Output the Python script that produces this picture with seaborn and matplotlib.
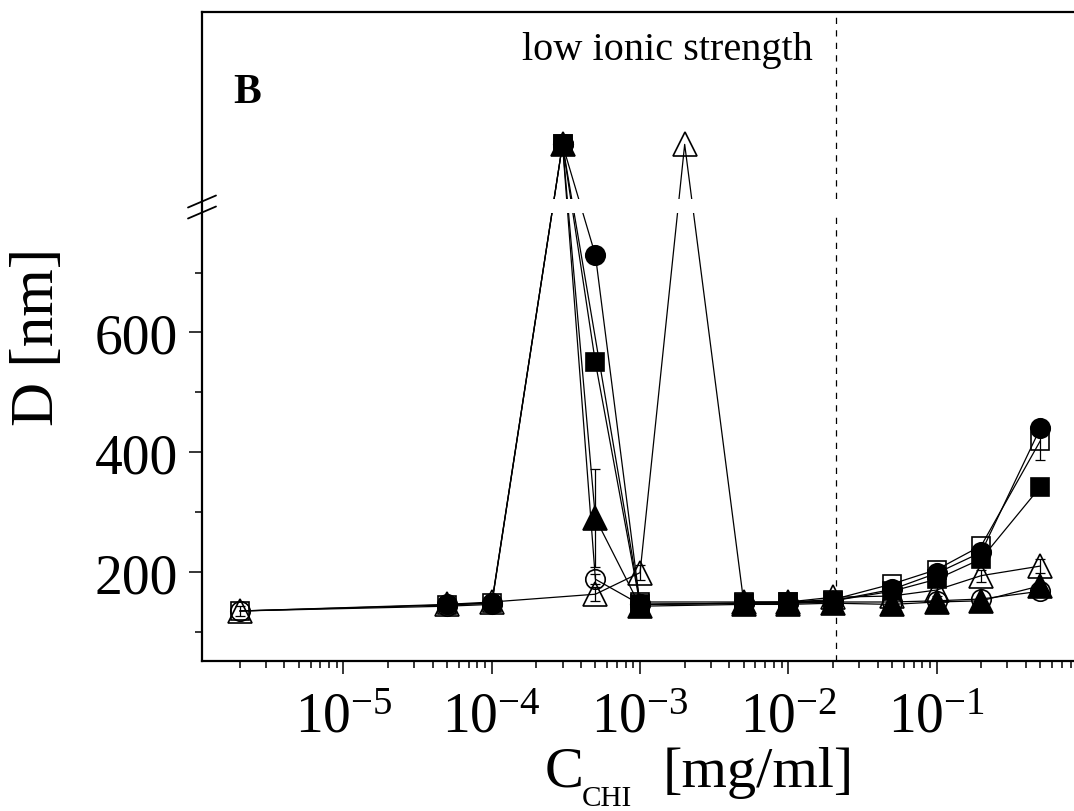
import numpy as np
import pandas as pd
import matplotlib
matplotlib.use("Agg")
import matplotlib.pyplot as plt
import seaborn as sns
from matplotlib.ticker import FixedLocator, FixedFormatter, LogLocator, NullFormatter
from matplotlib.lines import Line2D

# ---------------- data ----------------
nan = np.nan
PEAK = 914  # off-scale (aggregation) values shown above the axis break

C_CHI = [2e-6, 5e-5, 1e-4, 3e-4, 5e-4, 1e-3, 2e-3, 5e-3, 1e-2, 2e-2, 5e-2, 1e-1, 2e-1, 5e-1]

open_circle   = [135, 143, 146, PEAK, 188, 146, nan, 148, 148, 150, 150, 152, 155, 168]
open_square   = [135, 145, 148, PEAK, nan, 150, nan, 150, 150, 154, 180, 204, 244, 419]
open_triangle = [135, 146, 150, nan, 163, 199, PEAK, 150, 150, 158, 160, 170, 194, 210]
filled_circle = [nan, 146, 148, PEAK, 729, 146, nan, 148, 148, 152, 171, 198, 233, 440]
filled_square = [nan, nan, nan, PEAK, 550, 146, nan, 148, 150, 152, 168, 188, 222, 342]
filled_triangle = [nan, nan, nan, PEAK, 290, 143, nan, 146, 146, 148, 146, 150, 152, 177]

err_open_circle   = [0, 0, 0, 0, 8, 0, 0, 0, 0, 0, 0, 0, 0, 0]
err_open_square   = [0, 0, 0, 0, 0, 0, 0, 0, 0, 0, 0, 0, 0, 32]
err_open_triangle = [9, 9, 9, 0, 12, 12, 0, 9, 9, 9, 10, 10, 10, 12]
err_filled_circle = [0] * 14
err_filled_square = [0] * 14
err_filled_triangle = [0, 0, 0, 0, 82, 0, 0, 0, 0, 0, 0, 0, 0, 0]

XTICKS = [1e-5, 1e-4, 1e-3, 1e-2, 1e-1]
XTICK_LABELS = [r"$\mathdefault{10^{-5}}$", r"$\mathdefault{10^{-4}}$", r"$\mathdefault{10^{-3}}$",
                r"$\mathdefault{10^{-2}}$", r"$\mathdefault{10^{-1}}$"]
YTICKS = [200, 400, 600]
YMINOR = [100, 300, 500, 700]
IONIC_LIMIT = 0.021

# ---------------- style ----------------
sns.set_theme(style="ticks")
plt.rcParams["font.family"] = ["Liberation Serif", "DejaVu Serif"]
plt.rcParams["mathtext.fontset"] = "custom"
plt.rcParams["mathtext.rm"] = "Liberation Serif"
plt.rcParams["mathtext.it"] = "Liberation Serif:italic"
plt.rcParams["mathtext.bf"] = "Liberation Serif:bold"
plt.rcParams["axes.unicode_minus"] = False
plt.rcParams["text.color"] = "black"
plt.rcParams["axes.labelcolor"] = "black"
plt.rcParams["xtick.color"] = "black"
plt.rcParams["ytick.color"] = "black"

W, H = 1074, 812
fig = plt.figure(figsize=(W / 100, H / 100), dpi=100, facecolor="white")
x0, x1, ytop, ybot = 202, 1084.9, 13, 662.3
ax = fig.add_axes([x0 / W, (H - ybot) / H, (x1 - x0) / W, (ybot - ytop) / H])
ax.set_facecolor("white")
ax.set_xscale("log")

series = [
    (open_circle, err_open_circle, "o", "none", 14),
    (open_square, err_open_square, "s", "none", 13),
    (open_triangle, err_open_triangle, "^", "none", 17),
    (filled_square, err_filled_square, "s", "black", 12.5),
    (filled_circle, err_filled_circle, "o", "black", 14),
    (filled_triangle, err_filled_triangle, "^", "black", 17),
]

for vals, errs, mk, fc, ms in series:
    df = pd.DataFrame({"x": C_CHI, "y": vals, "e": errs}).dropna()
    sns.lineplot(data=df, x="x", y="y", ax=ax, color="black", lw=0.9,
                 marker=mk, markersize=ms, markerfacecolor=fc,
                 markeredgecolor="black", markeredgewidth=1.2,
                 estimator=None, sort=False, legend=False)
    de = df[df["e"] > 0]
    if len(de):
        ax.errorbar(de["x"], de["y"], yerr=de["e"], fmt="none", ecolor="black",
                    elinewidth=0.9, capsize=3.5, capthick=0.9)

# axis break: white gap over the data lines
ax.axhspan(800, 822, color="white", lw=0, zorder=2.2)

# dashed separator
ax.axvline(IONIC_LIMIT, color="black", lw=0.9, ls=(0, (5, 5)), zorder=1)

ax.set_xlim(10 ** -5.954, 1.0)
ax.set_ylim(51, 1135)
ax.xaxis.set_major_locator(FixedLocator(XTICKS))
ax.xaxis.set_major_formatter(FixedFormatter(XTICK_LABELS))
ax.xaxis.set_minor_locator(LogLocator(base=10, subs=np.arange(2, 10), numticks=20))
ax.xaxis.set_minor_formatter(NullFormatter())
ax.yaxis.set_major_locator(FixedLocator(YTICKS))
ax.yaxis.set_minor_locator(FixedLocator(YMINOR))
ax.yaxis.set_minor_formatter(NullFormatter())

ax.tick_params(axis="both", which="major", direction="out", length=9.4, width=1.1,
               labelsize=40, colors="black", top=False, right=False)
ax.tick_params(axis="y", which="major", pad=8)
ax.tick_params(axis="x", which="major", pad=12)
ax.tick_params(axis="both", which="minor", direction="out", length=5, width=1.1,
               top=False, right=False)
for s in ax.spines.values():
    s.set_linewidth(1.6)
    s.set_color("black")
ax.set_xlabel("")
ax.set_ylabel("")

# break marks on the left spine
for yc in (202.5, 213.5):
    fig.add_artist(Line2D([188 / W, 216 / W], [(H - (yc + 6)) / H, (H - (yc - 6)) / H],
                          transform=fig.transFigure, color="black", lw=1.3))

# texts
fig.text(233 / W, (H - 103) / H, "B", fontsize=30, fontweight="bold", va="baseline", ha="left")
fig.text(522 / W, (H - 60) / H, "low ionic strength", fontsize=29, va="baseline", ha="left")
fig.text(38 / W, (H - 337) / H, "D [nm]", fontsize=44, rotation=90, va="center", ha="center")
fig.text(545 / W, (H - 787) / H, "C", fontsize=42, va="baseline", ha="left")
fig.text(582 / W, (H - 806) / H, "CHI", fontsize=21, va="baseline", ha="left")
fig.text(663 / W, (H - 787) / H, "[mg/ml]", fontsize=42, va="baseline", ha="left")

fig.savefig("out.png", dpi=100, facecolor="white")
